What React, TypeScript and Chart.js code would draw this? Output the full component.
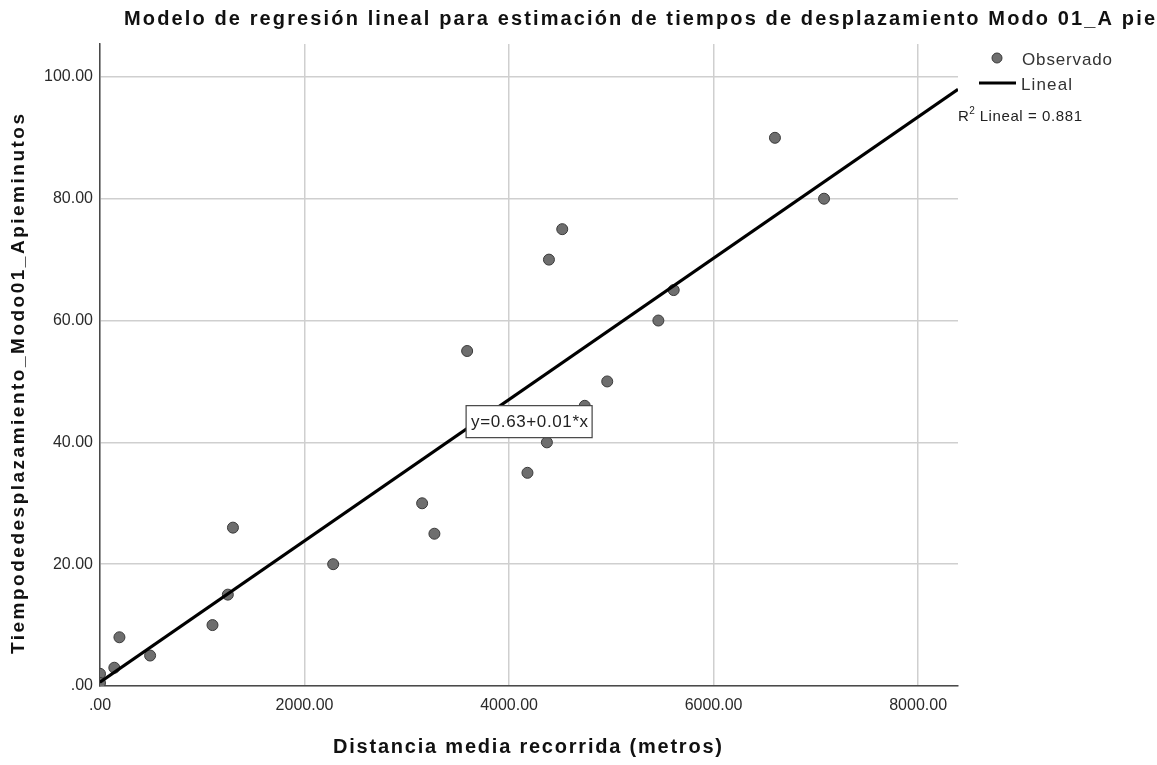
import React, { useEffect, useRef } from "react";
import { Chart, registerables } from "chart.js";

Chart.register(...registerables);

// Observed walking times vs. mean distance travelled
const distanciaMetros = [
  0, 0, 140, 190, 490, 1100, 1250, 1300, 2280, 3150, 3270, 3590, 4180, 4290,
  4370, 4390, 4520, 4740, 4960, 5460, 5610, 6600, 7080,
];
const tiempoMinutos = [
  2, 0.5, 3, 8, 5, 10, 15, 26, 20, 30, 25, 55, 35, 45, 40, 70, 75, 46, 50, 60,
  65, 90, 80,
];

// Fitted linear model
const intercepto = 0.63;
const pendiente = 0.0116;
const r2Lineal = 0.881;

// Axis ranges and ticks
const xMin = 0;
const xMax = 8390;
const xTicks = [0, 2000, 4000, 6000, 8000];
const yMin = 0;
const yMax = 105.4;
const yTicks = [0, 20, 40, 60, 80, 100];

const tituloGrafico =
  "Modelo de regresión lineal para estimación de tiempos de desplazamiento Modo 01_A pie";
const tituloEjeX = "Distancia media recorrida (metros)";
const tituloEjeY = "Tiempodedesplazamiento_Modo01_Apieminutos";

const FAMILY = "'Liberation Sans', Arial, sans-serif";

const fmtTick = (v: number) => {
  const s = v.toFixed(2);
  return s.startsWith("0.") ? s.slice(1) : s;
};

// Draw text starting at `left`, spread to a given width via letter spacing
function drawFitted(
  ctx: CanvasRenderingContext2D,
  text: string,
  left: number,
  midY: number,
  width: number,
  font: string,
  color: string
) {
  ctx.save();
  ctx.font = font;
  (ctx as any).letterSpacing = "0px";
  const w = ctx.measureText(text).width;
  const ls = (width - w) / Math.max(1, text.length - 1);
  (ctx as any).letterSpacing = `${ls}px`;
  ctx.fillStyle = color;
  ctx.textAlign = "left";
  ctx.textBaseline = "middle";
  ctx.fillText(text, left, midY);
  ctx.restore();
}

const decorPlugin = {
  id: "decor",
  afterDatasetsDraw(chart: any) {
    const ctx: CanvasRenderingContext2D = chart.ctx;
    const xs = chart.scales.x;
    const ys = chart.scales.y;
    // Equation label near the middle of the fitted line
    const eq = `y=${intercepto.toFixed(2)}+${pendiente.toFixed(2)}*x`;
    const bx = xs.getPixelForValue(3580);
    const cy = ys.getPixelForValue(43.4);
    ctx.save();
    ctx.fillStyle = "#ffffff";
    ctx.strokeStyle = "#444444";
    ctx.lineWidth = 1.2;
    ctx.fillRect(bx, cy - 16, 126, 32);
    ctx.strokeRect(bx, cy - 16, 126, 32);
    ctx.restore();
    drawFitted(ctx, eq, bx + 5, cy + 1, 117, `17px ${FAMILY}`, "#222222");
  },
  afterDraw(chart: any) {
    const ctx: CanvasRenderingContext2D = chart.ctx;
    const bold = (s: number) => `bold ${s}px ${FAMILY}`;
    const reg = (s: number) => `${s}px ${FAMILY}`;

    drawFitted(ctx, tituloGrafico, 124, 19, 1031, bold(20), "#111111");
    drawFitted(ctx, tituloEjeX, 333, 747, 389, bold(20), "#111111");

    ctx.save();
    ctx.translate(19, 384);
    ctx.rotate(-Math.PI / 2);
    drawFitted(ctx, tituloEjeY, -270, 0, 540, bold(19), "#111111");
    ctx.restore();

    // Legend
    ctx.save();
    ctx.beginPath();
    ctx.arc(997, 58, 5, 0, Math.PI * 2);
    ctx.fillStyle = "#6e6e6e";
    ctx.fill();
    ctx.strokeStyle = "#3a3a3a";
    ctx.lineWidth = 1;
    ctx.stroke();
    ctx.beginPath();
    ctx.moveTo(979, 83);
    ctx.lineTo(1016, 83);
    ctx.strokeStyle = "#000000";
    ctx.lineWidth = 3;
    ctx.stroke();
    ctx.restore();
    drawFitted(ctx, "Observado", 1022, 60, 90, reg(17), "#333333");
    drawFitted(ctx, "Lineal", 1021, 85, 51, reg(17), "#333333");

    // R² annotation
    ctx.save();
    ctx.fillStyle = "#222222";
    ctx.textBaseline = "middle";
    ctx.textAlign = "left";
    ctx.font = reg(15);
    ctx.fillText("R", 958, 117);
    const rw = ctx.measureText("R").width;
    ctx.font = reg(10);
    ctx.fillText("2", 958 + rw + 0.5, 111);
    const sw = ctx.measureText("2").width;
    ctx.restore();
    const rest = ` Lineal = ${r2Lineal.toFixed(3)}`;
    const startRest = 958 + rw + 0.5 + sw;
    ctx.save();
    ctx.font = reg(15);
    const restW = ctx.measureText(rest).width;
    ctx.restore();
    drawFitted(ctx, rest, startRest, 117, Math.max(restW, 1082 - startRest), reg(15), "#222222");
  },
};

export default function App() {
  const canvasRef = useRef<HTMLCanvasElement | null>(null);

  useEffect(() => {
    if (!canvasRef.current) return;
    const puntos = distanciaMetros.map((x, i) => ({ x, y: tiempoMinutos[i] }));
    const recta = [
      { x: xMin, y: intercepto + pendiente * xMin },
      { x: xMax, y: intercepto + pendiente * xMax },
    ];
    const tickFont = { family: FAMILY, size: 16 };
    const chart = new Chart(canvasRef.current, {
      type: "scatter",
      data: {
        datasets: [
          {
            type: "line",
            label: "Lineal",
            data: recta,
            borderColor: "#000000",
            borderWidth: 3,
            pointRadius: 0,
            fill: false,
          } as any,
          {
            label: "Observado",
            data: puntos,
            backgroundColor: "#6e6e6e",
            borderColor: "#3a3a3a",
            borderWidth: 1,
            pointRadius: 5.5,
          },
        ],
      },
      options: {
        responsive: false,
        animation: false,
        layout: { padding: { left: 0, top: 44, right: 199, bottom: 0 } },
        plugins: {
          legend: { display: false },
          title: { display: false },
          tooltip: { enabled: false },
        },
        scales: {
          x: {
            type: "linear",
            min: xMin,
            max: xMax,
            afterBuildTicks: (s: any) => {
              s.ticks = xTicks.map((value) => ({ value }));
            },
            afterFit: (s: any) => {
              s.height = 79;
            },
            grid: { color: "#cfcfcf", lineWidth: 1.5, drawTicks: false },
            border: { color: "#4a4a4a", width: 1.5 },
            ticks: {
              padding: 10,
              color: "#2a2a2a",
              font: tickFont,
              callback: (v: any) => fmtTick(Number(v)),
              maxRotation: 0,
              autoSkip: false,
            },
          },
          y: {
            type: "linear",
            min: yMin,
            max: yMax,
            afterBuildTicks: (s: any) => {
              s.ticks = yTicks.map((value) => ({ value }));
            },
            afterFit: (s: any) => {
              s.width = 100;
            },
            grid: { color: "#cfcfcf", lineWidth: 1.5, drawTicks: false },
            border: { color: "#4a4a4a", width: 1.5 },
            ticks: {
              padding: 7,
              color: "#2a2a2a",
              font: tickFont,
              callback: (v: any) => fmtTick(Number(v)),
              autoSkip: false,
            },
          },
        },
      },
      plugins: [decorPlugin],
    });
    return () => chart.destroy();
  }, []);

  return (
    <div style={{ position: "absolute", left: 0, top: 0, width: 1157, height: 765, background: "#ffffff" }}>
      <canvas ref={canvasRef} width={1157} height={765} />
    </div>
  );
}
